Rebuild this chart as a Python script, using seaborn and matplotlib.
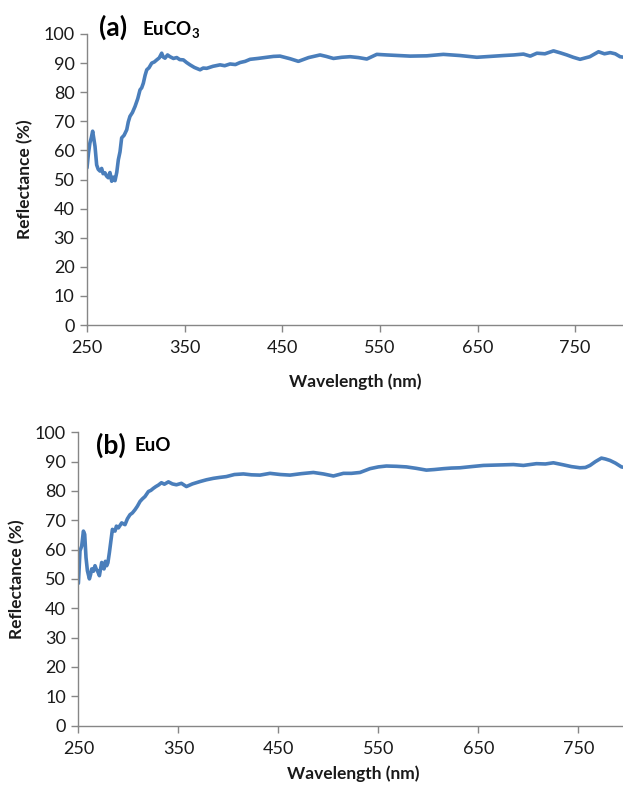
import matplotlib
matplotlib.use("Agg")
import matplotlib.pyplot as plt
import seaborn as sns
import pandas as pd

# Diffuse reflectance spectra, panel (a): EuCO3
wl_a = [250, 251.5, 253, 254.5, 255.8, 257, 258.2, 259.9, 261.5, 263.3,
        265, 266.5, 268.4, 270, 271.8, 273.5, 275.3, 277, 278.7, 280.5,
        282.1, 283.8, 285.5, 288, 290.7, 292.3, 294, 296.5, 299.2, 302,
        304.3, 306, 307.7, 309.5, 311.2, 313.5, 316.3, 319, 321.4, 324,
        326.5, 328, 329.9, 332.5, 335, 338.5, 341.9, 345, 348.7, 352,
        355.5, 360, 365.8, 369, 372.6, 379, 386.3, 391, 396.5, 402,
        406.8, 412, 417, 425, 434.1, 441, 447.7, 458, 466.5, 477,
        488.7, 495, 502.4, 511, 519.5, 528, 536.6, 546.8, 557, 569,
        581, 598, 615, 632, 649.3, 663, 676.5, 687, 697, 704,
        710.8, 719, 727.8, 735, 741.5, 748, 755, 765, 773.9, 780,
        785.9, 791, 796, 800]
refl_a = [54, 59, 62.6, 64.5, 66.6, 64, 61.4, 55, 53.5, 52.9,
          53.8, 52, 52.3, 51.2, 50.6, 52.4, 49.4, 50.8, 49.6, 52.5,
          56.8, 59.5, 64.3, 65.2, 67.1, 69.8, 71.7, 73, 75.1, 77.8,
          80.8, 81.5, 83.1, 85.8, 87.7, 88.4, 90, 90.4, 91.1, 91.8,
          93.4, 92.1, 91.7, 92.8, 92.2, 91.6, 91.9, 91.2, 91.1, 90.2,
          89.4, 88.5, 87.7, 88.3, 88.2, 88.9, 89.4, 89.1, 89.7, 89.5,
          90.2, 90.6, 91.3, 91.6, 92, 92.3, 92.4, 91.5, 90.6, 91.9,
          92.8, 92.3, 91.6, 92, 92.2, 91.9, 91.4, 93, 92.8, 92.6,
          92.4, 92.5, 93, 92.6, 92, 92.3, 92.6, 92.8, 93.1, 92.4,
          93.4, 93.2, 94.2, 93.5, 92.8, 92, 91.3, 92.2, 93.9, 93.2,
          93.6, 93.2, 92.2, 92]

# Panel (b): EuO
wl_b = [250, 251.6, 253.3, 255, 256.3, 257.6, 259, 261, 262.2, 263.3,
        265, 266.6, 268, 269, 271, 273.3, 275.6, 277, 278.3, 279.5,
        281, 284, 286.6, 288, 290, 293.3, 296.6, 299, 301.6, 304,
        306.6, 309, 311.6, 314, 316.6, 320, 322.5, 325, 327.5, 330,
        333, 336, 340, 344, 348, 353, 358, 364, 371.6, 378,
        385, 391, 398, 406, 415, 423, 431.6, 441.6, 452, 461.6,
        473, 485, 495, 505, 515, 523, 531.6, 541.6, 550, 558,
        568, 578, 588, 598, 606, 615, 623, 631.6, 643, 655,
        665, 675, 685, 695, 708, 717, 725, 735, 743, 751.6,
        757, 761.6, 767, 773, 777, 781.6, 787, 793, 800]
refl_b = [48.5, 59.6, 61.2, 66.3, 65.2, 57.3, 52.8, 50, 51.5, 53.4,
          52.6, 54.5, 53.2, 52.8, 51.1, 55.6, 53.4, 56, 54.5, 55.5,
          59, 66.9, 66.3, 68, 67.4, 69.1, 68.5, 70.5, 71.9, 72.5,
          73.6, 74.8, 76.4, 77.3, 78.1, 79.8, 80.2, 80.9, 81.5, 82,
          82.8, 82.3, 83.1, 82.4, 82.1, 82.6, 81.5, 82.4, 83.2, 83.8,
          84.3, 84.6, 84.9, 85.6, 85.8, 85.5, 85.4, 86, 85.6, 85.4,
          85.9, 86.3, 85.8, 85.1, 86, 86, 86.3, 87.6, 88.2, 88.5,
          88.4, 88.2, 87.7, 87.1, 87.3, 87.6, 87.8, 87.9, 88.3, 88.7,
          88.8, 88.9, 89, 88.7, 89.3, 89.2, 89.6, 88.9, 88.3, 87.9,
          88, 88.7, 90, 91.2, 90.9, 90.4, 89.5, 88.2, 87.8]

x_ticks = [250, 350, 450, 550, 650, 750]
y_ticks = list(range(0, 101, 10))

sns.set_theme(style="ticks")
plt.rcParams["font.family"] = ["Lato", "DejaVu Sans"]
plt.rcParams["mathtext.fontset"] = "custom"
plt.rcParams["mathtext.bf"] = "Lato:bold"
plt.rcParams["mathtext.rm"] = "Lato"

LINE = "#4a7ebb"
GRAY = "#868686"
TEXT = "#1a1a1a"

fig = plt.figure(figsize=(6.23, 7.88), dpi=100)
W, H = 623, 788

def make_axes(left_px, right_px, top_px, bottom_px):
    return fig.add_axes([left_px / W, 1 - bottom_px / H,
                         (right_px - left_px) / W, (bottom_px - top_px) / H])

ax_a = make_axes(87, 624, 34, 325)
ax_b = make_axes(78.4, 628.4, 432.3, 725.5)

panels = [
    (ax_a, wl_a, refl_a, 12),
    (ax_b, wl_b, refl_b, 6),
]

for ax, wl, refl, xpad in panels:
    df = pd.DataFrame({"Wavelength": wl, "Reflectance": refl})
    sns.lineplot(data=df, x="Wavelength", y="Reflectance", ax=ax,
                 color=LINE, linewidth=2.6, estimator=None, sort=False)
    ax.set_xlim(250, 800)
    ax.set_ylim(0, 100)
    ax.set_xticks(x_ticks)
    ax.set_yticks(y_ticks)
    ax.set_facecolor("white")
    for side in ("top", "right"):
        ax.spines[side].set_visible(False)
    for side in ("left", "bottom"):
        ax.spines[side].set_color(GRAY)
        ax.spines[side].set_linewidth(1.0)
    ax.tick_params(axis="x", direction="out", length=5, width=1.0,
                   color=GRAY, labelsize=13, labelcolor=TEXT, pad=6)
    ax.tick_params(axis="y", direction="out", length=5, width=1.0,
                   color=GRAY, labelsize=13, labelcolor=TEXT, pad=4)
    ax.set_xlabel("Wavelength (nm)", fontsize=12.5, fontweight="bold",
                  color=TEXT, labelpad=xpad)
    ax.set_ylabel("Reflectance (%)", fontsize=12.5, fontweight="bold",
                  color=TEXT, labelpad=7)

# Panel captions
fig.text(99 / W, 1 - 27 / H, "(a)", fontsize=19, fontweight="bold",
         color="black", va="center", ha="left")
fig.text(142 / W, 1 - 29 / H, r"$\mathbf{EuCO_3}$", fontsize=13.5,
         color="black", va="center", ha="left")
fig.text(96 / W, 1 - 445 / H, "(b)", fontsize=19, fontweight="bold",
         color="black", va="center", ha="left")
fig.text(135 / W, 1 - 445 / H, "EuO", fontsize=13.5, fontweight="bold",
         color="black", va="center", ha="left")

fig.savefig("out.png", dpi=100, facecolor="white")
